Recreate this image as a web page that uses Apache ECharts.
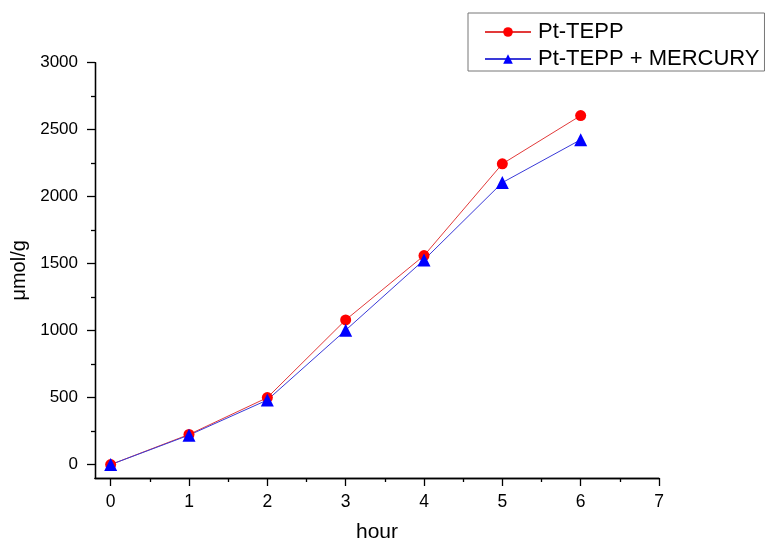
<!DOCTYPE html>
<html><head><meta charset="utf-8">
<script src="https://cdn.jsdelivr.net/npm/echarts@6/dist/echarts.min.js"></script>
<style>html,body{margin:0;padding:0;background:#fff}#c{width:769px;height:544px}</style>
</head><body><div id="c"></div>
<script>
const hours = [0, 1, 2, 3, 4, 5, 6];
const ptTepp = [0, 225, 500, 1080, 1560, 2245, 2605];
const ptTeppMercury = [0, 220, 482, 1003, 1528, 2105, 2425];
const xMajorTicks = [0, 1, 2, 3, 4, 5, 6, 7];
const xMinorTicks = [0.5, 1.5, 2.5, 3.5, 4.5, 5.5, 6.5];
const yMajorTicks = [0, 500, 1000, 1500, 2000, 2500, 3000];
const yMinorTicks = [250, 750, 1250, 1750, 2250, 2750];
const seriesNames = ['Pt-TEPP', 'Pt-TEPP + MERCURY'];

const font = 'Liberation Sans, Arial, sans-serif';
const chart = echarts.init(document.getElementById('c'), null, {renderer: 'canvas'});
const axisLineStyle = {color: '#000', width: 1.3};
function xAxisDef(ticks, len, labels, name) {
  return {
    type: 'value', min: -0.2, max: 7, position: 'bottom',
    name: name || '', nameLocation: 'middle', nameGap: 44,
    nameTextStyle: {fontFamily: font, fontSize: 21, color: '#000'},
    axisLine: {show: true, onZero: false, lineStyle: axisLineStyle},
    axisTick: {show: true, customValues: ticks, length: len, inside: false, lineStyle: {color: '#000', width: 1.3}},
    axisLabel: labels ? {show: true, customValues: ticks, fontFamily: font, fontSize: 17.5, color: '#000', margin: 15, formatter: v => String(v)} : {show: false},
    splitLine: {show: false}
  };
}
function yAxisDef(ticks, len, labels, name) {
  return {
    type: 'value', min: -100, max: 3000, position: 'left',
    name: name || '', nameLocation: 'middle', nameGap: 60,
    nameTextStyle: {fontFamily: font, fontSize: 20, color: '#000'},
    axisLine: {show: true, onZero: false, lineStyle: axisLineStyle},
    axisTick: {show: true, customValues: ticks, length: len, inside: false, lineStyle: {color: '#000', width: 1.3}},
    axisLabel: labels ? {show: true, customValues: ticks, fontFamily: font, fontSize: 17, color: '#000', margin: 17, formatter: v => String(v)} : {show: false},
    splitLine: {show: false}
  };
}
chart.setOption({
  animation: false,
  backgroundColor: '#fff',
  grid: {left: 95, right: 110, top: 62.7, bottom: 66, containLabel: false, outerBoundsMode: 'none'},
  xAxis: [xAxisDef(xMajorTicks, 8, true, 'hour'), xAxisDef(xMinorTicks, 4, false)],
  yAxis: [yAxisDef(yMajorTicks, 8, true, 'μmol/g'), yAxisDef(yMinorTicks, 4, false)],
  legend: {
    show: true, orient: 'vertical', left: 468, top: 13,
    borderColor: '#777', borderWidth: 1, borderRadius: 0,
    padding: [8, 5, 1, 16], itemGap: 5, itemWidth: 46, itemHeight: 12,
    textStyle: {fontFamily: font, fontSize: 22, color: '#000', padding: [0, 0, 0, 2]},
    data: seriesNames
  },
  series: [
    {
      name: seriesNames[0], type: 'line', xAxisIndex: 0, yAxisIndex: 0,
      data: hours.map((h, i) => [h, ptTepp[i]]),
      symbol: 'circle', symbolSize: 11,
      itemStyle: {color: '#ff0000'},
      lineStyle: {color: '#e23a3a', width: 1}
    },
    {
      name: seriesNames[1], type: 'line', xAxisIndex: 0, yAxisIndex: 0,
      data: hours.map((h, i) => [h, ptTeppMercury[i]]),
      symbol: 'triangle', symbolSize: 13,
      itemStyle: {color: '#0000ff'},
      lineStyle: {color: '#3a3ad8', width: 1}
    }
  ]
});
</script></body></html>
